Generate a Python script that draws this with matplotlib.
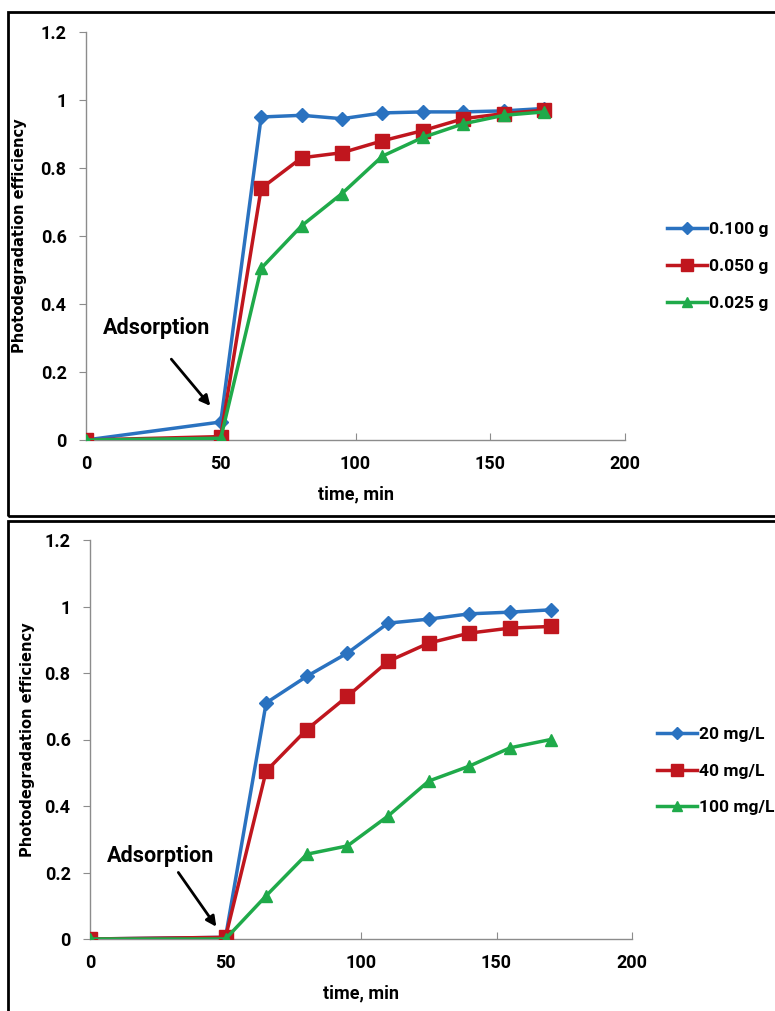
import matplotlib
matplotlib.use("Agg")
import matplotlib.pyplot as plt
from matplotlib.patches import Rectangle

# shared time axis (min)
time = [0, 50, 65, 80, 95, 110, 125, 140, 155, 170]

# top panel: catalyst dose
dose_labels = ["0.100 g", "0.050 g", "0.025 g"]
dose_100 = [0, 0.053, 0.95, 0.955, 0.945, 0.962, 0.965, 0.965, 0.968, 0.975]
dose_050 = [0, 0.01, 0.74, 0.83, 0.845, 0.88, 0.91, 0.945, 0.96, 0.97]
dose_025 = [0, 0.005, 0.505, 0.63, 0.725, 0.835, 0.89, 0.93, 0.955, 0.965]

# bottom panel: initial concentration
conc_labels = ["20 mg/L", "40 mg/L", "100 mg/L"]
conc_20 = [0, 0.005, 0.71, 0.79, 0.86, 0.95, 0.962, 0.978, 0.983, 0.99]
conc_40 = [0, 0.005, 0.505, 0.63, 0.73, 0.835, 0.89, 0.92, 0.935, 0.94]
conc_100 = [0, 0.0, 0.13, 0.255, 0.28, 0.37, 0.475, 0.52, 0.575, 0.6]

xticks = [0, 50, 100, 150, 200]
yticks = [0, 0.2, 0.4, 0.6, 0.8, 1.0, 1.2]
ytick_labels = ["0", "0.2", "0.4", "0.6", "0.8", "1", "1.2"]

colors = ["#2a72c0", "#c0161e", "#1faa4a"]
markers = ["D", "s", "^"]
msizes = [7, 10, 9]

tick_font = ["Roboto", "DejaVu Sans"]

fig = plt.figure(figsize=(7.75, 10.11), dpi=100)

# panel frames
for y0, h in [(1 - 516 / 1011, 504 / 1011), (-0.01, 1 - 521 / 1011 + 0.01)]:
    fig.patches.append(Rectangle((8 / 775, y0), 1.0, h, transform=fig.transFigure,
                                 fill=False, edgecolor="black", linewidth=2))


def draw_panel(rect, series, labels, ylab_x, leg_pos, text_xy, arrow_tail, arrow_head):
    ax = fig.add_axes(rect)
    for i, ys in enumerate(series):
        ax.plot(time, ys, color=colors[i], marker=markers[i], markersize=msizes[i],
                linewidth=2.5, label=labels[i], zorder=3 + i)
    ax.set_xlim(0, 200)
    ax.set_ylim(0, 1.2)
    ax.set_xticks(xticks)
    ax.set_yticks(yticks)
    ax.set_yticklabels(ytick_labels)
    for s in ["top", "right"]:
        ax.spines[s].set_visible(False)
    for s in ["left", "bottom"]:
        ax.spines[s].set_color("#8c8c8c")
        ax.spines[s].set_linewidth(1)
    ax.tick_params(axis="x", direction="in", length=5, color="#8c8c8c", pad=11)
    ax.tick_params(axis="y", direction="out", length=5, color="#8c8c8c", pad=9)
    for lab in ax.get_xticklabels() + ax.get_yticklabels():
        lab.set_fontfamily(tick_font)
        lab.set_fontweight("bold")
        lab.set_fontsize(13)
    ax.set_xlabel("time, min", fontfamily=tick_font, fontweight="bold", fontsize=13, labelpad=9)
    ax.set_ylabel("Photodegradation efficiency", fontfamily="DejaVu Sans",
                  fontweight="bold", fontsize=10.5)
    ax.yaxis.set_label_coords(ylab_x, 0.5)
    ax.annotate("", xy=arrow_head, xytext=arrow_tail,
                arrowprops=dict(arrowstyle="-|>", color="black", lw=2, mutation_scale=15))
    ax.text(text_xy[0], text_xy[1], "Adsorption", ha="center", va="center",
            fontfamily=tick_font, fontweight="bold", fontsize=15.5)
    ax.legend(loc="center left", bbox_to_anchor=leg_pos, frameon=False,
              borderaxespad=0, borderpad=0,
              handlelength=2.3, handletextpad=0.1, labelspacing=1.25, markerscale=0.85,
              prop={"family": tick_font, "weight": "bold", "size": 12.5})
    return ax


draw_panel([86 / 775, 1 - 440 / 1011, 539 / 775, 408 / 1011],
           [dose_100, dose_050, dose_025], dose_labels, -0.109, (1.078, 0.426),
           (26, 0.33), (31, 0.244), (46.8, 0.094))

draw_panel([90 / 775, 1 - 939 / 1011, 542 / 775, 399 / 1011],
           [conc_20, conc_40, conc_100], conc_labels, -0.101, (1.046, 0.421),
           (26, 0.25), (32, 0.207), (47.2, 0.03))

fig.savefig("out.png", dpi=100)
